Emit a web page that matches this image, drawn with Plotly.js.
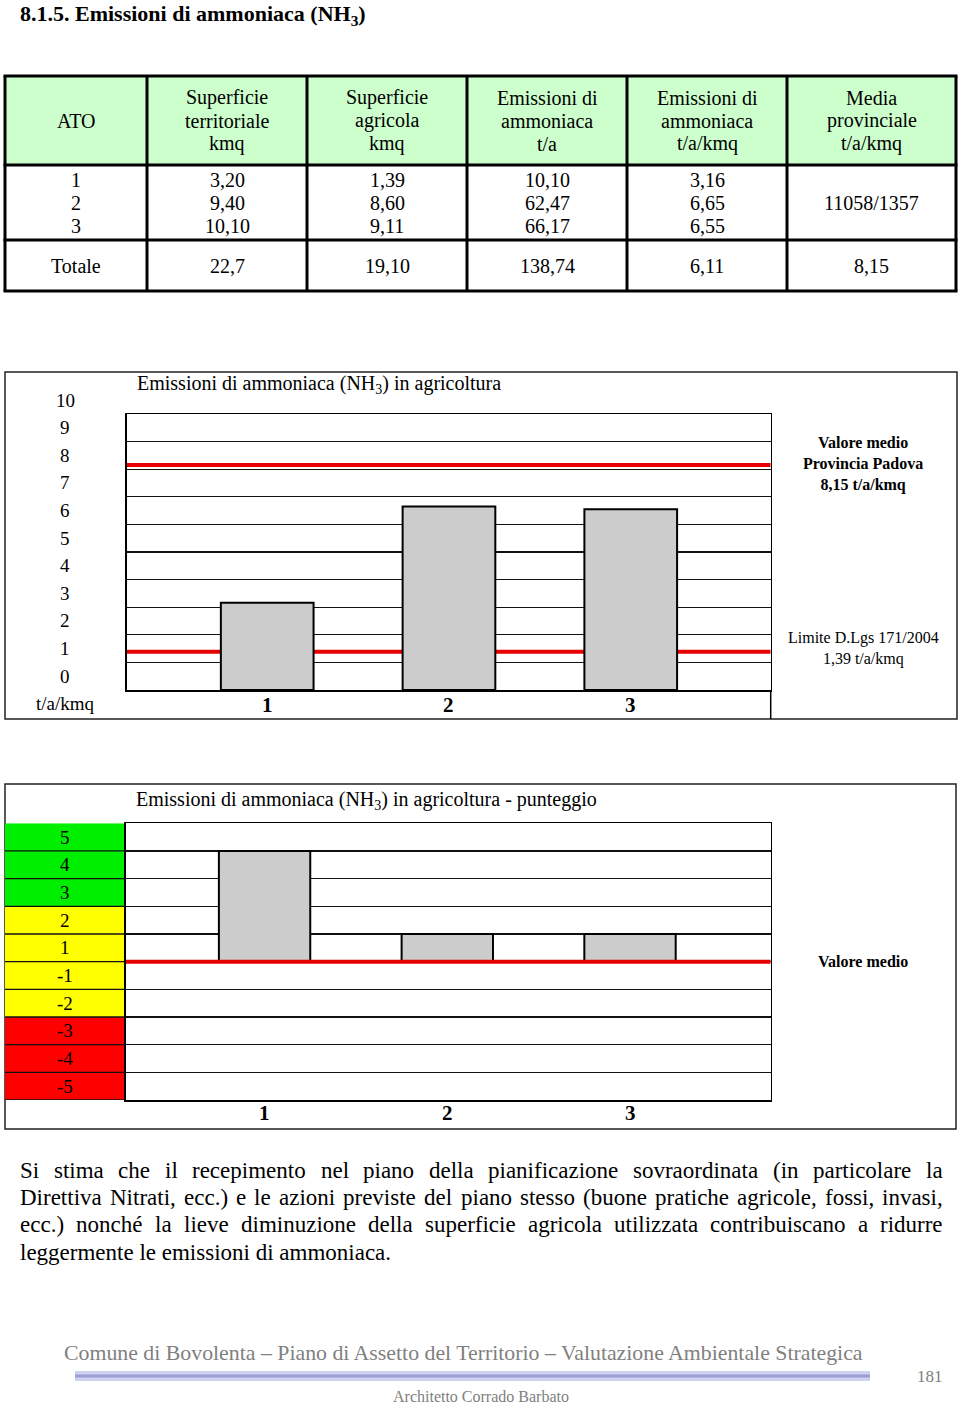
<!DOCTYPE html>
<html>
<head>
<meta charset="utf-8">
<script src="https://cdn.plot.ly/plotly-3.0.1.min.js"></script>
<style>html,body{margin:0;padding:0;background:#fff;}#chart{width:960px;height:1407px;}</style>
</head>
<body>
<div id="chart"></div>
<script>
// ---------------- DATA ----------------
const atoIds = ['1', '2', '3'];
const superficieTerritoriale = [3.20, 9.40, 10.10];
const superficieAgricola = [1.39, 8.60, 9.11];
const emissioniTA = [10.10, 62.47, 66.17];
const emissioniTAKmq = [3.16, 6.65, 6.55];
const mediaProvincialeFrazione = '11058/1357';
const totali = ['Totale', '22,7', '19,10', '138,74', '6,11', '8,15'];
const tableHeaders = [['ATO'], ['Superficie', 'territoriale', 'kmq'], ['Superficie', 'agricola', 'kmq'],
  ['Emissioni di', 'ammoniaca', 't/a'], ['Emissioni di', 'ammoniaca', 't/a/kmq'], ['Media', 'provinciale', 't/a/kmq']];

const categories = ['1', '2', '3'];
const emissionsPerKmq = [3.16, 6.65, 6.55];
const provincialMean = 8.15;
const legalLimit = 1.39;
const emissionTickLabels = ['10', '9', '8', '7', '6', '5', '4', '3', '2', '1', '0'];
const emissionUnit = 't/a/kmq';

const scores = [4, 1, 1];
const scoreMean = 0;
const scoreTickLabels = ['5', '4', '3', '2', '1', '-1', '-2', '-3', '-4', '-5'];
const scoreBandEdges = [5, 2, -2, -5];
const scoreBandNames = ['buono', 'medio', 'critico'];

const paragraphLines = [
  'Si stima che il recepimento nel piano della pianificazione sovraordinata (in particolare la',
  'Direttiva Nitrati, ecc.) e le azioni previste del piano stesso (buone pratiche agricole, fossi, invasi,',
  'ecc.) nonché la lieve diminuzione della superficie agricola utilizzata contribuiscano a ridurre',
  'leggermente le emissioni di ammoniaca.'
];
const footerMain = 'Comune di Bovolenta – Piano di Assetto del Territorio – Valutazione Ambientale Strategica';
const footerAuthor = 'Architetto Corrado Barbato';
const pageNumber = '181';

// ---------------- HELPERS ----------------
const W = 960, H = 1407;
const SERIF = 'Liberation Serif, Times New Roman, serif';
const px = x => x / W;
const py = y => 1 - y / H;
const fmt = v => v.toFixed(2).replace('.', ',');
const ctx = document.createElement('canvas').getContext('2d');
function tw(s, size, bold) { ctx.font = (bold ? 'bold ' : '') + size + 'px "Liberation Serif"'; return ctx.measureText(s).width; }

const bandColors = ['#00ee00', '#ffff00', '#ff0000'];
const range1 = [0, 10], xr1 = [0.227, 3.77];
const range2 = [-5, 5], xr2 = [0.24, 3.77];

const shapes = [];
const ann = [];
const A = (o) => ann.push(Object.assign({ showarrow: false, xref: 'paper', yref: 'paper', font: { family: SERIF, size: 19, color: '#000' } }, o));
const font = (size, extra) => Object.assign({ family: SERIF, size: size, color: '#000' }, extra || {});

// ---------------- TABLE (drawn in paper coordinates) ----------------
const colEdges = [5, 147, 307, 467, 627, 787, 956];
const rowEdges = [76, 165, 240, 291];
const rowCenters = [120.5, 203, 266];
const LS = 23;
shapes.push({ type: 'rect', xref: 'paper', yref: 'paper', x0: px(colEdges[0]), x1: px(colEdges[6]), y0: py(rowEdges[1]), y1: py(rowEdges[0]), fillcolor: '#ccffcc', line: { width: 0 }, layer: 'below' });
colEdges.forEach(x => shapes.push({ type: 'line', xref: 'paper', yref: 'paper', x0: px(x), x1: px(x), y0: py(rowEdges[3]), y1: py(rowEdges[0]), line: { color: '#000', width: 3 } }));
rowEdges.forEach(y => shapes.push({ type: 'line', xref: 'paper', yref: 'paper', x0: px(colEdges[0] - 1.5), x1: px(colEdges[6] + 1.5), y0: py(y), y1: py(y), line: { color: '#000', width: 3 } }));
const dataCols = [atoIds, superficieTerritoriale.map(fmt), superficieAgricola.map(fmt), emissioniTA.map(fmt), emissioniTAKmq.map(fmt), [mediaProvincialeFrazione]];
function cellText(lines, col, row) {
  const cx = (colEdges[col] + colEdges[col + 1]) / 2;
  lines.forEach((t, i) => A({ text: t, x: px(cx), y: py(rowCenters[row] + (i - (lines.length - 1) / 2) * LS), xanchor: 'center', yanchor: 'middle', font: font(20) }));
}
tableHeaders.forEach((h, c) => cellText(h, c, 0));
dataCols.forEach((d, c) => cellText(d, c, 1));
totali.forEach((t, c) => cellText([t], c, 2));

// ---------------- TRACES ----------------
const bars1 = {
  type: 'bar', x: categories.map(Number), y: emissionsPerKmq, xaxis: 'x', yaxis: 'y',
  width: 0.51, marker: { color: '#cccccc', line: { color: '#000', width: 2 } }, hoverinfo: 'y'
};
const bars2 = {
  type: 'bar', x: categories.map(Number), y: scores, base: 0, xaxis: 'x2', yaxis: 'y2',
  width: 0.5, marker: { color: '#cccccc', line: { color: '#000', width: 2 } }, hoverinfo: 'y'
};

// ---------------- AXES ----------------
const baseY = {
  showgrid: true, gridcolor: '#111', gridwidth: 1.3, dtick: 1, showticklabels: false,
  zeroline: false, showline: true, mirror: true, linecolor: '#000', linewidth: 1.5, ticks: '', fixedrange: true
};
const baseX = {
  showgrid: false, zeroline: false, showline: true, mirror: true, linecolor: '#000', linewidth: 1.5,
  showticklabels: false, ticks: '', fixedrange: true
};

// ---------------- CHART 1 ----------------
shapes.push({ type: 'rect', xref: 'paper', yref: 'paper', x0: px(5), x1: px(957), y0: py(719), y1: py(372), line: { color: '#222', width: 1.5 }, layer: 'below' });
shapes.push({ type: 'line', xref: 'paper', yref: 'paper', x0: px(770.7), x1: px(770.7), y0: py(719), y1: py(690), line: { color: '#000', width: 1.5 } });
[provincialMean, legalLimit].forEach(v => shapes.push({ type: 'line', xref: 'x', yref: 'y', x0: xr1[0], x1: xr1[1], y0: v, y1: v, line: { color: '#e60000', width: 4 }, layer: 'below' }));

A({ text: '<b>8.1.5. Emissioni di ammoniaca (NH<sub>3</sub>)</b>', x: px(19), y: py(0), xanchor: 'left', yanchor: 'top', borderpad: 0, font: font(22) });
A({ text: 'Emissioni di ammoniaca (NH<sub>3</sub>) in agricoltura', x: px(135), y: py(384), xanchor: 'left', yanchor: 'middle', font: font(20) });
const dom1 = v => (v - range1[0]) / (range1[1] - range1[0]);
emissionTickLabels.forEach(l => A({ text: l, x: px(65), xanchor: 'center', yref: 'y domain', y: dom1(Number(l) + 0.5), yanchor: 'middle', font: font(19) }));
A({ text: emissionUnit, x: px(65), xanchor: 'center', yref: 'y domain', y: dom1(-0.5), yanchor: 'middle', font: font(19) });
categories.forEach(c => A({ text: '<b>' + c + '</b>', xref: 'x', x: Number(c), y: py(705), xanchor: 'center', yanchor: 'middle', font: font(21) }));
A({ text: '<b>Valore medio<br>Provincia Padova<br>' + fmt(provincialMean) + ' t/a/kmq</b>', x: px(863), y: py(464), xanchor: 'center', yanchor: 'middle', font: font(16) });
A({ text: 'Limite D.Lgs 171/2004<br>' + fmt(legalLimit) + ' t/a/kmq', x: px(863), y: py(648), xanchor: 'center', yanchor: 'middle', font: font(16) });

// ---------------- CHART 2 ----------------
shapes.push({ type: 'rect', xref: 'paper', yref: 'paper', x0: px(5), x1: px(956), y0: py(1129), y1: py(784), line: { color: '#222', width: 1.5 }, layer: 'below' });
for (let i = 0; i < scoreBandNames.length; i++) {
  shapes.push({ type: 'rect', xref: 'paper', yref: 'y2', x0: px(5), x1: px(125.7), y0: scoreBandEdges[i + 1], y1: scoreBandEdges[i], fillcolor: bandColors[i], line: { width: 0 }, layer: 'below' });
}
for (let k = range2[0]; k < range2[1]; k++) {
  shapes.push({ type: 'line', xref: 'paper', yref: 'y2', x0: px(5), x1: px(125.7), y0: k, y1: k, line: { color: '#111', width: 1.3 } });
}
shapes.push({ type: 'line', xref: 'x2', yref: 'y2', x0: xr2[0], x1: xr2[1], y0: scoreMean, y1: scoreMean, line: { color: '#e60000', width: 4 } });

A({ text: 'Emissioni di ammoniaca (NH<sub>3</sub>) in agricoltura - punteggio', x: px(134), y: py(800), xanchor: 'left', yanchor: 'middle', font: font(20) });
scoreTickLabels.forEach(l => { const v = Number(l); A({ text: l, x: px(65), xanchor: 'center', yref: 'y2', y: v > 0 ? v - 0.5 : v + 0.5, yanchor: 'middle', font: font(19) }); });
categories.forEach(c => A({ text: '<b>' + c + '</b>', xref: 'x2', x: Number(c), y: py(1113), xanchor: 'center', yanchor: 'middle', font: font(21) }));
A({ text: '<b>Valore medio</b>', x: px(863), yref: 'y2', y: scoreMean, xanchor: 'center', yanchor: 'middle', font: font(16) });

// ---------------- PARAGRAPH (justified) ----------------
const lineYs = [1170, 1197, 1224, 1252];
const L = 20, R = 943;
let pSize = 21 * 392 / tw(paragraphLines[3], 21);
pSize = Math.max(18, Math.min(23, pSize));
paragraphLines.forEach((line, i) => {
  if (i === paragraphLines.length - 1) {
    A({ text: line, x: px(L - 2), y: py(lineYs[i]), xanchor: 'left', yanchor: 'middle', font: font(pSize) });
    return;
  }
  const words = line.split(' ');
  const widths = words.map(w => tw(w, pSize));
  const sum = widths.reduce((a, b) => a + b, 0);
  const gap = (R - L - sum) / (words.length - 1);
  let x = L;
  words.forEach((w, j) => {
    A({ text: w, x: px(x - 2), y: py(lineYs[i]), xanchor: 'left', yanchor: 'middle', font: font(pSize) });
    x += widths[j] + gap;
  });
});

// ---------------- FOOTER ----------------
shapes.push({ type: 'rect', xref: 'paper', yref: 'paper', x0: px(75), x1: px(870), y0: py(1381), y1: py(1371), fillcolor: 'rgba(150,155,215,0.45)', line: { width: 0 } });
shapes.push({ type: 'line', xref: 'paper', yref: 'paper', x0: px(75), x1: px(870), y0: py(1376), y1: py(1376), line: { color: 'rgba(120,125,200,0.6)', width: 3 } });
const fSize = 20 * 802 / tw(footerMain, 20);
A({ text: footerMain, x: px(463), y: py(1353), xanchor: 'center', yanchor: 'middle', font: font(fSize, { color: '#808080' }) });
A({ text: pageNumber, x: px(930), y: py(1376), xanchor: 'center', yanchor: 'middle', font: font(17, { color: '#808080' }) });
A({ text: footerAuthor, x: px(481), y: py(1396), xanchor: 'center', yanchor: 'middle', font: font(16, { color: '#808080' }) });

// ---------------- LAYOUT ----------------
const layout = {
  width: W, height: H,
  margin: { l: 0, r: 0, t: 0, b: 0, pad: 0 },
  paper_bgcolor: '#fff', plot_bgcolor: 'rgba(0,0,0,0)',
  showlegend: false,
  font: { family: SERIF, color: '#000' },
  xaxis: Object.assign({}, baseX, { domain: [px(126.7), px(770.7)], range: xr1, anchor: 'y' }),
  yaxis: Object.assign({}, baseY, { domain: [py(690), py(414)], range: range1, anchor: 'x' }),
  xaxis2: Object.assign({}, baseX, { domain: [px(125.7), px(770.7)], range: xr2, anchor: 'y2' }),
  yaxis2: Object.assign({}, baseY, { domain: [py(1100), py(823.3)], range: range2, anchor: 'x2' }),
  shapes: shapes,
  annotations: ann,
  bargap: 0
};

Plotly.newPlot('chart', [bars1, bars2], layout, { displayModeBar: false, staticPlot: true });
</script>
</body>
</html>
